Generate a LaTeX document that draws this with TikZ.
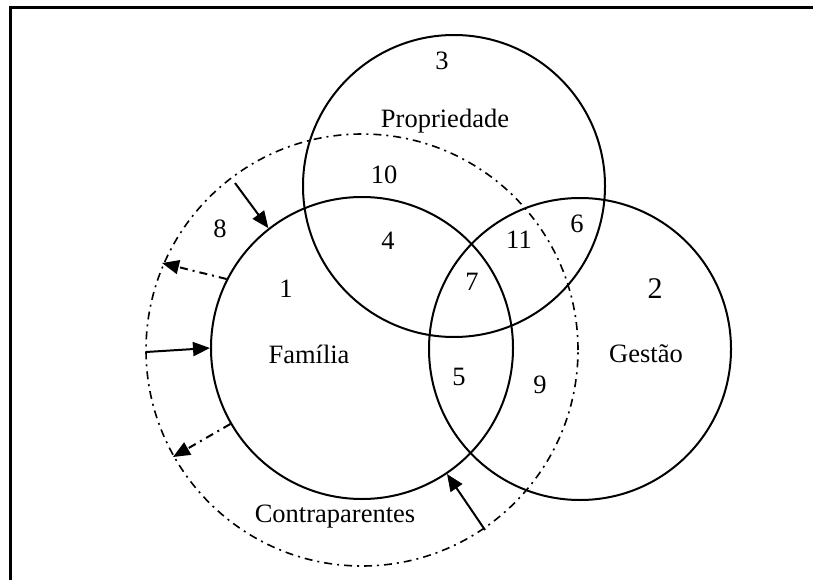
\documentclass[tikz,border=0pt]{standalone}
\usepackage{fontspec}
\setmainfont{Liberation Serif}
\usetikzlibrary{arrows.meta}
\begin{document}
\begin{tikzpicture}[x=1pt,y=-1pt,
  ring/.style={circle,draw,line width=2pt,inner sep=0pt,minimum size=302pt},
  outerring/.style={circle,draw,line width=1.6pt,inner sep=0pt,minimum size=432pt,dash pattern=on 8pt off 5pt on 2pt off 5pt},
  lbl/.style={font=\fontsize{26.5}{30}\selectfont,anchor=base,inner sep=0pt},
  biglbl/.style={font=\fontsize{30}{34}\selectfont,anchor=base,inner sep=0pt},
  inarrow/.style={line width=2pt,-{Triangle[length=17pt,width=14pt]}},
  outarrow/.style={line width=2pt,dash pattern=on 8pt off 5pt on 2pt off 5pt,-{Triangle[length=17pt,width=14pt]}}]
\useasboundingbox (0,0) rectangle (813,580);
\draw[line width=2.4pt] (10.5,580) -- (10.5,7.5) -- (813,7.5);
% circles
\node[outerring] (outer) at (362,350) {};
\node[ring] (prop) at (454,186) {};
\node[ring] (fam) at (362,348) {};
\node[ring] (gest) at (580,349) {};
% free ends on the dash-dot circle
\coordinate (o1) at (235,183);
\coordinate (o2) at (162,263);
\coordinate (o3) at (146,352);
\coordinate (o4) at (173,457);
\coordinate (o5) at (485,530);
% arrows
\draw[inarrow] (o1) -- (fam.128);
\draw[outarrow] (fam.153) -- (o2);
\draw[inarrow] (o3) -- (fam.west);
\draw[outarrow] (fam.210) -- (o4);
\draw[inarrow] (o5) -- (fam.304);
% labels
\node[lbl] (t3) at (442,70) {3};
\node[lbl] (tprop) at (445,128) {Propriedade};
\node[lbl] (t10) at (384,183) {10};
\node[lbl] (t8) at (220,237) {8};
\node[lbl] (t4) at (388,249) {4};
\node[lbl] (t11) at (519,248) {11};
\node[lbl] (t6) at (577,232) {6};
\node[lbl] (t1) at (286,297) {1};
\node[lbl] (t7) at (472,290) {7};
\node[biglbl] (t2) at (655,298) {2};
\node[lbl] (tfam) at (309,363) {Família};
\node[lbl] (t5) at (459,385) {5};
\node[lbl] (t9) at (540,393) {9};
\node[lbl] (tgest) at (646,362) {Gestão};
\node[lbl] (tcontra) at (335,522) {Contraparentes};
\end{tikzpicture}
\end{document}
